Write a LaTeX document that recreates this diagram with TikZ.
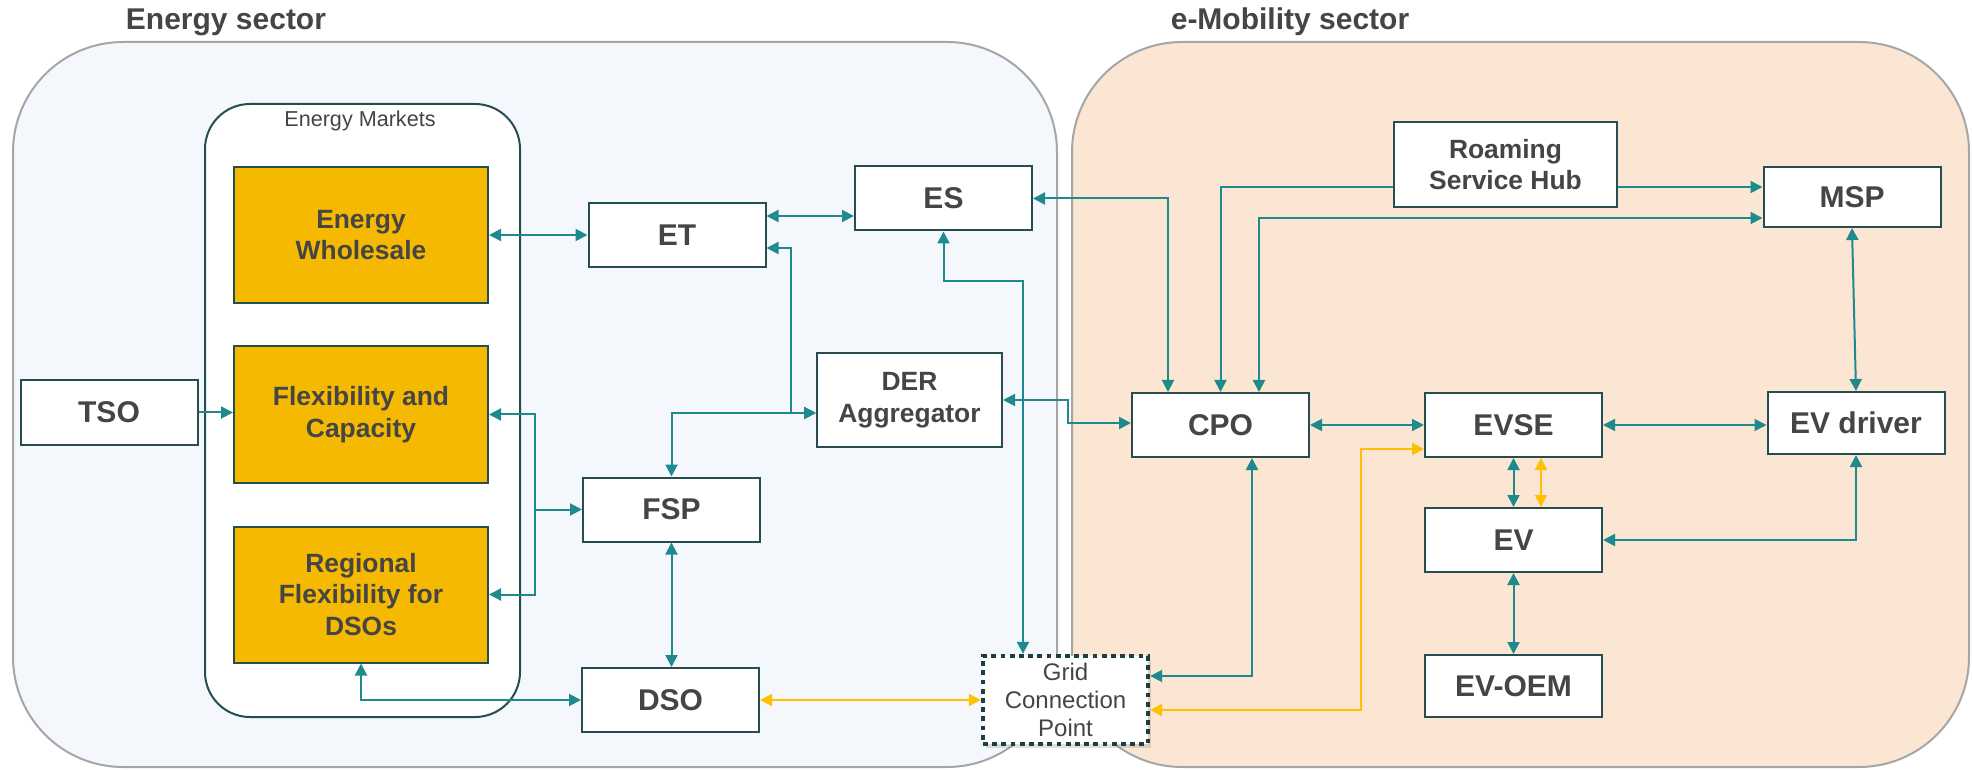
\documentclass[tikz,border=0pt]{standalone}
\usepackage{fontspec}
\setmainfont{Liberation Sans}
\usetikzlibrary{arrows.meta,shadows}
\definecolor{boxline}{HTML}{264D4F}
\definecolor{linkteal}{HTML}{1E8A8E}
\definecolor{supplyylw}{HTML}{FFC000}
\definecolor{mktfill}{HTML}{F4B900}
\definecolor{energybg}{HTML}{F4F8FD}
\definecolor{mobbg}{HTML}{FAE6D3}
\definecolor{sectorline}{HTML}{A6A6A6}
\definecolor{txt}{HTML}{454545}
\begin{document}
\begin{tikzpicture}[x=0.5pt,y=0.5pt]
        \tikzstyle{every node}+=[inner sep=0pt]
        \tikzstyle{sector}=[draw=sectorline,line width=1pt,rounded corners=55pt]
        \tikzstyle{title}=[text=txt,font=\bfseries\fontsize{15}{18}\selectfont]
        \tikzstyle{box}=[draw=boxline,fill=white,line width=1pt,minimum width=88.5pt,minimum height=32pt,align=center,text=txt,font=\bfseries\fontsize{15}{18}\selectfont]
        \tikzstyle{twoline}=[font=\bfseries\fontsize{13.2}{15.8}\selectfont]
        \tikzstyle{mkt}=[box,twoline,fill=mktfill,minimum width=127pt,minimum height=68pt]
        \tikzstyle{gridbox}=[box,font=\fontsize{12}{14}\selectfont,minimum width=82.5pt,minimum height=44pt,draw=boxline!80!black,line width=2.2pt,dash pattern=on 2.4pt off 2.2pt,drop shadow={opacity=0.25,shadow xshift=1.5pt,shadow yshift=-2pt}]
        \tikzstyle{link}=[draw=linkteal,line width=1pt,>={Triangle[length=6pt,width=6pt]}]
        \tikzstyle{supply}=[link,draw=supplyylw]
        \useasboundingbox (0,0) rectangle (1972,-770);
        \draw[sector,fill=energybg] (13,-42) rectangle (1057,-767);
        \draw[sector,fill=mobbg] (1072,-42) rectangle (1969,-767);
        \node[title] (esec) at (226,-22) {Energy sector};
        \node[title] (msec) at (1290,-22) {e-Mobility sector};
        \node[draw=boxline,fill=white,line width=1pt,rounded corners=22.5pt,minimum width=157.5pt,minimum height=306.5pt] (markets) at (362.5,-410.5) {};
        \node[text=txt,font=\fontsize{10.8}{13}\selectfont] (mktlabel) at (360,-121) {Energy Markets};
        \node[box] (tso) at (109,-412.5) {TSO};
        \node[mkt] (whole) at (361,-235) {Energy\\Wholesale};
        \node[mkt] (flex) at (361,-414.5) {Flexibility and\\Capacity};
        \node[mkt] (regio) at (361,-594.5) {Regional\\Flexibility for\\DSOs};
        \node[box] (et) at (677,-235) {ET};
        \node[box] (es) at (943.5,-198.5) {ES};
        \node[box,twoline,minimum width=92.5pt,minimum height=47pt] (der) at (909.5,-400) {DER\\Aggregator};
        \node[box] (fsp) at (671.5,-509.5) {FSP};
        \node[box] (dso) at (670.5,-700) {DSO};
        \node[gridbox] (gcp) at (1065.5,-700) {Grid\\Connection\\Point};
        \node[box,twoline,minimum width=111.5pt,minimum height=42.5pt] (rsh) at (1505.5,-164.5) {Roaming\\Service Hub};
        \node[box,minimum height=30pt] (msp) at (1852,-197) {MSP};
        \node[box] (cpo) at (1220.5,-425) {CPO};
        \node[box] (evse) at (1513.5,-425) {EVSE};
        \node[box,minimum height=31pt] (drv) at (1856,-423) {EV driver};
        \node[box] (ev) at (1513.5,-540) {EV};
        \node[box,minimum height=31pt] (oem) at (1513.5,-686) {EV-OEM};
        \draw[link,->] (tso.east) -- (tso.east -| flex.west);
        \draw[link,<->] (whole.east) -- (et.west);
        \draw[link,<->] ([yshift=9.5pt]et.east) -- ([yshift=9.5pt]et.east -| es.west);
        \draw[link,<->] ([yshift=-6.5pt]et.east) -| (791,-413) -- ([yshift=-6.5pt]der.west);
        \draw[link,<->] (fsp.north) |- ([yshift=-6.5pt]der.west);
        \coordinate (fj) at ([xshift=-23.5pt]fsp.west);
        \draw[link,<->] (flex.east) -| (fj) |- (regio.east);
        \draw[link,->] (fj) -- (fsp.west);
        \draw[link,<->] (fsp.south) -- (fsp.south |- dso.north);
        \draw[link,<->] (regio.south) |- (dso.west);
        \draw[link,<->] (es.south) -- ++(0,-50) -| ([xshift=-21.25pt]gcp.north);
        \draw[link,<->] (es.east) -| ([xshift=-26.25pt]cpo.north);
        \draw[link,<->] (der.east) -- ++(65,0) |- ([yshift=1pt]cpo.west);
        \draw[link,->] ([yshift=-11.25pt]rsh.west) -| (cpo.north);
        \draw[link,->] ([yshift=-11.25pt]rsh.east) -- ([yshift=-11.25pt]rsh.east -| msp.west);
        \draw[link,<->] ([xshift=19.25pt]cpo.north) |- ([yshift=-10.5pt]msp.west);
        \draw[link,<->] (cpo.east) -- (evse.west);
        \draw[link,<->] ([xshift=15.75pt]cpo.south) |- ([yshift=12pt]gcp.east);
        \draw[supply,<->] ([yshift=-5pt]gcp.east) -- ++(211,0) |- ([yshift=-12pt]evse.west);
        \draw[supply,<->] (dso.east) -- (gcp.west);
        \draw[link,<->] (evse.south) -- (ev.north);
        \draw[supply,<->] ([xshift=13.75pt]evse.south) -- ([xshift=13.75pt]ev.north);
        \draw[link,<->] (ev.south) -- (oem.north);
        \draw[link,<->] (evse.east) -- (evse.east -| drv.west);
        \draw[link,<->] (msp.south) -- (drv.north);
        \draw[link,<->] (ev.east) -| (drv.south);
\end{tikzpicture}
\end{document}
